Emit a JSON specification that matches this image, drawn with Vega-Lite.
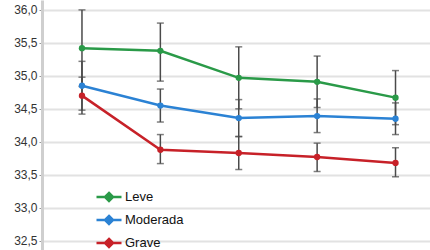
{
  "$schema": "https://vega.github.io/schema/vega-lite/v6.json",
  "width": 388,
  "height": 250,
  "autosize": {"type": "none"},
  "padding": {"left": 42, "top": 0, "right": 0, "bottom": 0},
  "background": "white",
  "config": {
    "view": {"stroke": null},
    "locale": {"number": {"decimal": ",", "thousands": ".", "grouping": [3], "currency": ["", " €"]}},
    "axisY": {"labelOverlap": false, "labelBound": false, "labelFlush": false,
      "grid": true, "gridColor": "#e2e2e2", "gridWidth": 2, "domain": true, "domainColor": "#cfcfcf", "domainWidth": 3,
      "ticks": true, "tickColor": "#999", "tickSize": 3, "tickWidth": 1, "labelPadding": 2, "labelFont": "Liberation Sans", "labelFontSize": 12, "labelColor": "#333"}
  },
  "data": {"values": [
    {"serie": "Leve", "t": 1, "v": 35.42, "lo": 34.84, "hi": 36.0},
    {"serie": "Leve", "t": 2, "v": 35.38, "lo": 34.92, "hi": 35.80},
    {"serie": "Leve", "t": 3, "v": 34.97, "lo": 34.50, "hi": 35.44},
    {"serie": "Leve", "t": 4, "v": 34.91, "lo": 34.52, "hi": 35.30},
    {"serie": "Leve", "t": 5, "v": 34.67, "lo": 34.26, "hi": 35.08},
    {"serie": "Moderada", "t": 1, "v": 34.85, "lo": 34.48, "hi": 35.22},
    {"serie": "Moderada", "t": 2, "v": 34.55, "lo": 34.30, "hi": 34.80},
    {"serie": "Moderada", "t": 3, "v": 34.36, "lo": 34.08, "hi": 34.64},
    {"serie": "Moderada", "t": 4, "v": 34.39, "lo": 34.14, "hi": 34.65},
    {"serie": "Moderada", "t": 5, "v": 34.35, "lo": 34.11, "hi": 34.59},
    {"serie": "Grave", "t": 1, "v": 34.70, "lo": 34.42, "hi": 34.98},
    {"serie": "Grave", "t": 2, "v": 33.88, "lo": 33.67, "hi": 34.11},
    {"serie": "Grave", "t": 3, "v": 33.83, "lo": 33.58, "hi": 34.08},
    {"serie": "Grave", "t": 4, "v": 33.77, "lo": 33.55, "hi": 33.98},
    {"serie": "Grave", "t": 5, "v": 33.68, "lo": 33.47, "hi": 33.91}
  ]},
  "encoding": {
    "x": {"field": "t", "type": "quantitative", "scale": {"domain": [0.49, 5.44], "nice": false, "zero": false}, "axis": null}
  },
  "layer": [
    {
      "mark": {"type": "rule", "color": "#4a4a4a", "strokeWidth": 1.5},
      "encoding": {
        "y": {"field": "lo", "type": "quantitative", "scale": {"domain": [32.36, 36.15], "nice": false, "zero": false},
          "axis": {"values": [32.5, 33.0, 33.5, 34.0, 34.5, 35.0, 35.5, 36.0], "format": ".1f", "title": null}},
        "y2": {"field": "hi"}
      }
    },
    {
      "mark": {"type": "tick", "orient": "horizontal", "color": "#4a4a4a", "size": 7, "thickness": 1.5},
      "encoding": {"y": {"field": "lo", "type": "quantitative", "axis": {"values": [32.5, 33.0, 33.5, 34.0, 34.5, 35.0, 35.5, 36.0], "format": ".1f", "title": null}}}
    },
    {
      "mark": {"type": "tick", "orient": "horizontal", "color": "#4a4a4a", "size": 7, "thickness": 1.5},
      "encoding": {"y": {"field": "hi", "type": "quantitative", "axis": {"values": [32.5, 33.0, 33.5, 34.0, 34.5, 35.0, 35.5, 36.0], "format": ".1f", "title": null}}}
    },
    {
      "mark": {"type": "line", "strokeWidth": 2.5},
      "encoding": {
        "y": {"field": "v", "type": "quantitative", "axis": {"values": [32.5, 33.0, 33.5, 34.0, 34.5, 35.0, 35.5, 36.0], "format": ".1f", "title": null}},
        "color": {"field": "serie", "type": "nominal",
          "scale": {"domain": ["Leve", "Moderada", "Grave"], "range": ["#2a9a48", "#2b82d4", "#c72128"]},
          "legend": {"orient": "none", "legendX": 53, "legendY": 183, "title": null, "padding": 0, "rowPadding": -1,
            "symbolType": "M-1,0H1M0,-0.32L0.32,0L0,0.32L-0.32,0Z", "symbolSize": 625, "symbolStrokeWidth": 2.5,
            "labelFont": "Liberation Sans", "labelFontSize": 13, "labelColor": "#111", "labelOffset": 2,
            "encode": {"symbols": {"update": {"fill": {"scale": "color", "field": "value"}}}}}
        }
      }
    },
    {
      "mark": {"type": "point", "filled": true, "size": 40, "opacity": 1},
      "encoding": {
        "y": {"field": "v", "type": "quantitative", "axis": {"values": [32.5, 33.0, 33.5, 34.0, 34.5, 35.0, 35.5, 36.0], "format": ".1f", "title": null}},
        "color": {"field": "serie", "type": "nominal", "legend": null}
      }
    }
  ]
}
